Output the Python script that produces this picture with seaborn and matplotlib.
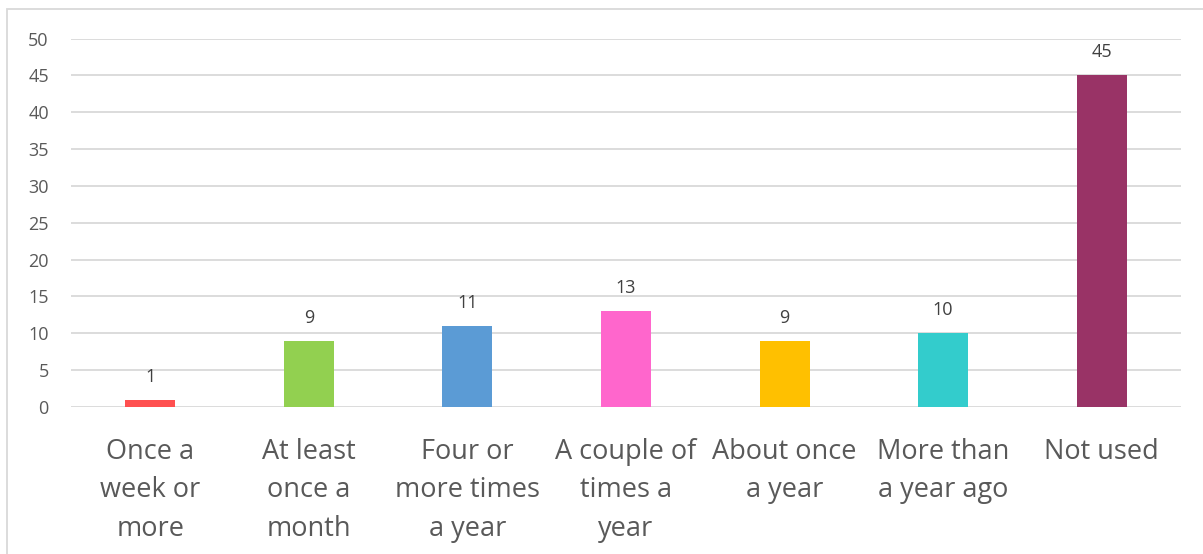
import matplotlib
matplotlib.use("Agg")
import matplotlib.pyplot as plt
import seaborn as sns
import pandas as pd
from matplotlib.patches import Rectangle

categories = [
    "Once a\nweek or\nmore",
    "At least\nonce a\nmonth",
    "Four or\nmore times\na year",
    "A couple of\ntimes a\nyear",
    "About once\na year",
    "More than\na year ago",
    "Not used",
]
values = [1, 9, 11, 13, 9, 10, 45]
colors = ["#FF5050", "#92D050", "#5B9BD5", "#FF66CC", "#FFC000", "#33CCCC", "#993366"]
y_ticks = [0, 5, 10, 15, 20, 25, 30, 35, 40, 45, 50]

sns.set_theme(style="white")
plt.rcParams["font.family"] = ["Open Sans", "DejaVu Sans"]

df = pd.DataFrame({"category": categories, "value": values})

W, H = 1203, 554
fig = plt.figure(figsize=(W / 100, H / 100), dpi=100)
ax = fig.add_axes([71 / W, 1 - 407 / H, (1181 - 71) / W, (407 - 38.5) / H])

sns.barplot(data=df, x="category", y="value", hue="category", palette=colors,
            width=0.315, legend=False, ax=ax, saturation=1, linewidth=0)

ax.set_ylim(0, 50)
ax.set_xlim(-0.5, len(categories) - 0.5)
ax.set_yticks(y_ticks)
ax.set_xticks(range(len(categories)))
ax.set_xticklabels(categories, linespacing=1.5, va="top")
ax.yaxis.grid(True, color="#D9D9D9", linewidth=1.3)
ax.set_axisbelow(True)
for s in ax.spines.values():
    s.set_visible(False)
ax.set_xlabel("")
ax.set_ylabel("")
ax.tick_params(axis="y", length=0, pad=16, labelsize=13, labelcolor="#595959")
ax.tick_params(axis="x", length=0, pad=22, labelsize=19.5, labelcolor="#595959")

for cont in ax.containers:
    ax.bar_label(cont, padding=10, fontsize=13, color="#404040")

# outer chart frame
fig.patches.append(Rectangle((7 / W, -0.1), 1.2, 1 - 9 / H + 0.1, transform=fig.transFigure,
                             fill=False, edgecolor="#D9D9D9", linewidth=1.3))

fig.savefig("out.png", dpi=100, facecolor="white")
